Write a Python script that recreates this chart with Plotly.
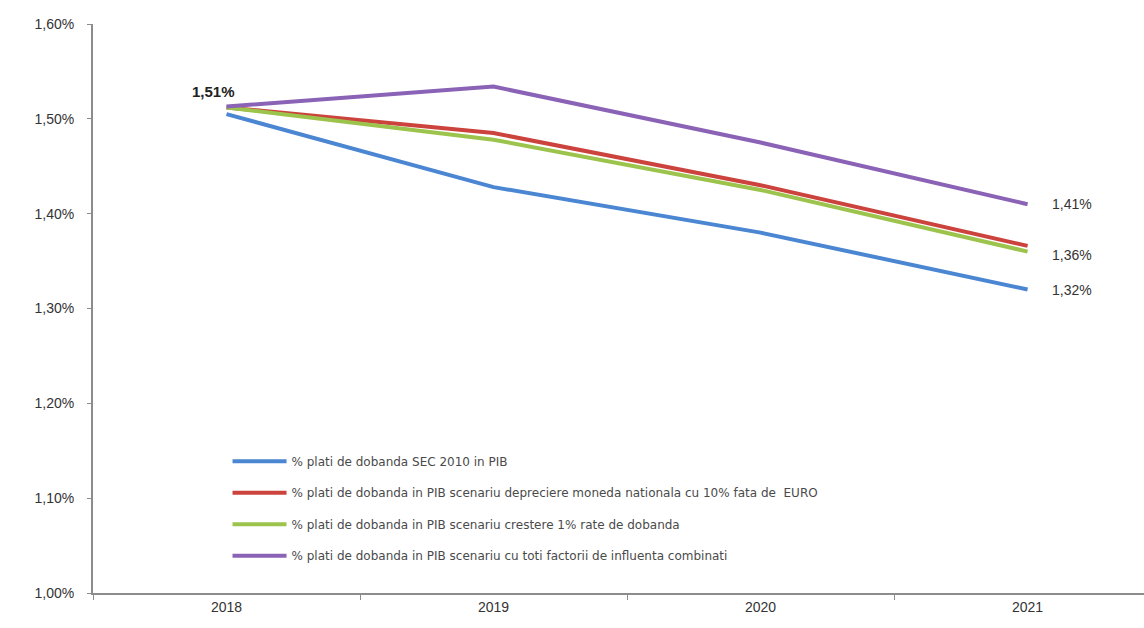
import plotly.graph_objects as go

# Years on the category axis
years = ["2018", "2019", "2020", "2021"]

# Interest payments as % of GDP, per scenario
sec2010 = [1.505, 1.428, 1.380, 1.320]
depreciere = [1.512, 1.485, 1.430, 1.366]
crestere_dobanda = [1.512, 1.478, 1.425, 1.360]
combinati = [1.513, 1.534, 1.475, 1.410]

series_names = [
    "% plati de dobanda SEC 2010 in PIB",
    "% plati de dobanda in PIB scenariu depreciere moneda nationala cu 10% fata de  EURO",
    "% plati de dobanda in PIB scenariu crestere 1% rate de dobanda",
    "% plati de dobanda in PIB scenariu cu toti factorii de influenta combinati",
]
series_values = [sec2010, depreciere, crestere_dobanda, combinati]
series_colors = ["#4A86D2", "#CC423C", "#9CC34B", "#8A62B6"]

# Y axis ticks
y_ticks = [1.00, 1.10, 1.20, 1.30, 1.40, 1.50, 1.60]
y_tick_text = ["1,00%", "1,10%", "1,20%", "1,30%", "1,40%", "1,50%", "1,60%"]


def pct(v):
    return f"{v:.2f}".replace(".", ",") + "%"


fig = go.Figure()
for i, (name, vals, col) in enumerate(zip(series_names, series_values, series_colors)):
    fig.add_trace(go.Scatter(
        x=years, y=vals, name=name, mode="lines",
        line=dict(color=col, width=4),
        legendgroup=f"g{i}",
    ))

label_font = dict(family="Liberation Sans, Arial", size=14, color="#333333")

# Starting value label
fig.add_annotation(
    xref="x", yref="y", x=0, y=combinati[0],
    text="<b>" + pct(combinati[0]) + "</b>",
    showarrow=False, xanchor="right", yanchor="middle", xshift=10, yshift=15,
    font=dict(family="Liberation Sans, Arial", size=15, color="#222222"),
)
# End-of-period labels
last = len(years) - 1
for vals, dy in ((combinati, 0), (crestere_dobanda, -3), (sec2010, 0)):
    fig.add_annotation(
        xref="x", yref="y", x=last, y=vals[-1], text=pct(vals[-1]),
        showarrow=False, xanchor="left", yanchor="middle", xshift=22, yshift=dy,
        font=label_font,
    )

fig.update_layout(
    width=1144, height=628,
    margin=dict(l=93, r=0, t=24, b=35),
    paper_bgcolor="white", plot_bgcolor="white",
    showlegend=True,
    legend=dict(
        x=0.128, y=0.257, xanchor="left", yanchor="top",
        font=dict(family="DejaVu Sans", size=12, color="#4A4A4A"),
        bgcolor="rgba(0,0,0,0)", tracegroupgap=12.5, itemwidth=54,
    ),
    xaxis=dict(
        type="category", range=[-0.5, 3.436],
        showline=True, linecolor="#8C8C8C", linewidth=2,
        ticks="outside", tickson="boundaries", ticklen=5, tickcolor="#8C8C8C",
        showgrid=False, zeroline=False,
        tickfont=label_font,
    ),
    yaxis=dict(
        range=[1.0, 1.6], tickvals=y_ticks, ticktext=y_tick_text,
        showline=True, linecolor="#8C8C8C", linewidth=2,
        ticks="outside", ticklen=4, tickcolor="#8C8C8C",
        showgrid=False, zeroline=False,
        tickfont=label_font,
        ticklabelstandoff=10,
    ),
)

fig.write_html("out.html")
